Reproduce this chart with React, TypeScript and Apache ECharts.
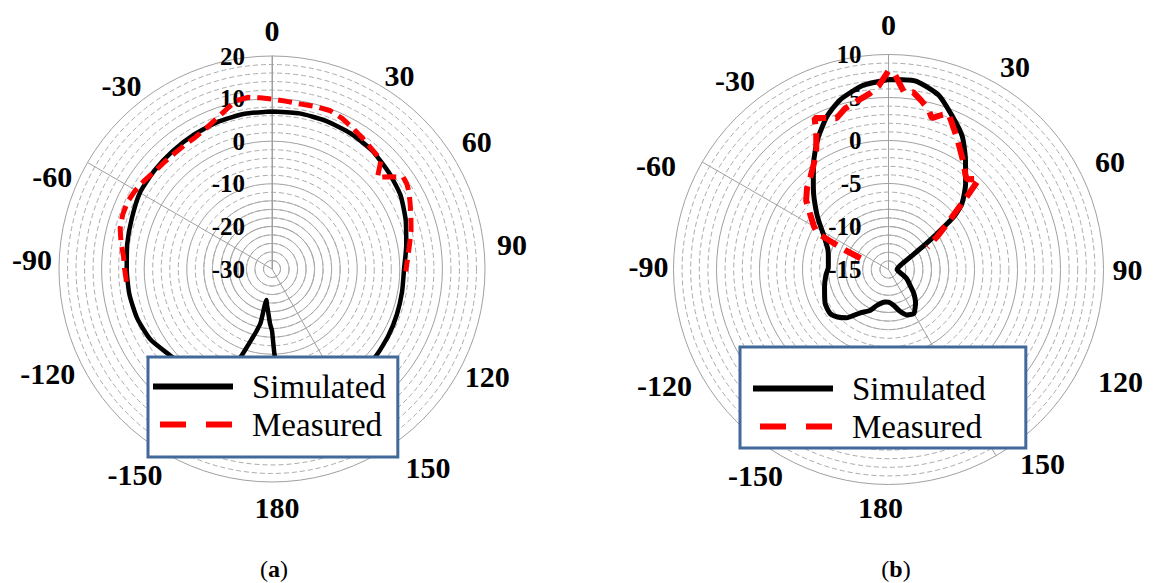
import React, { useEffect, useRef } from 'react';
import * as echarts from 'echarts';

const FONT = "'Liberation Serif', 'Times New Roman', Times, serif";

// ---------- (a) ----------
const A_RADIUS_MIN = -30;
const A_RADIUS_MAX = 20;
const A_RADIUS_STEP = 10;
const A_INNER_SOLID_MAX = -14;
const A_SIM_ANGLES = [0, 10, 20, 30, 40, 50, 60, 70, 80, 90, 100, 110, 120, 130, 140, 150, 160, 170, 175, 178, 180,
  -178, -175, -172, -170, -168, -166, -164, -162, -160, -155, -150, -145, -140, -135, -130, -120, -110, -100,
  -90, -80, -70, -60, -50, -40, -30, -20, -10];
const A_SIM_GAIN = [7.0, 7.1, 7.0, 6.8, 6.4, 5.6, 4.8, 3.4, 2.0, 1.0, 1.0, 1.2, 1.5, 1.8, 1.5, 0.5, -1.5, -4.5, -7.0, -9.1, -15.5,
  -17.1, -19.8, -21.5, -22.6, -17.0, -15.0, -13.0, -10.5, -7.7, -4.5, -2.5, -1.0, 0.0, 0.8, 1.4, 3.0, 3.7, 4.0,
  4.1, 4.5, 5.0, 5.8, 6.0, 6.2, 6.5, 6.8, 7.0];
const A_MEAS_ANGLES = [-95, -90, -85, -80, -75, -70, -65, -60, -55, -50, -45, -40, -35, -30, -25, -20, -15, -12, -8, -4,
  0, 5, 10, 15, 20, 25, 30, 35, 40, 45, 49, 52, 55, 58, 61, 65, 70, 75, 81, 85, 91];
const A_MEAS_GAIN = [4.3, 4.6, 5.0, 6.0, 6.9, 7.3, 7.4, 7.0, 6.4, 5.8, 5.6, 5.5, 5.6, 5.8, 6.5, 7.7, 9.3, 10.4, 10.7, 10.3,
  9.9, 9.5, 9.3, 9.5, 9.6, 9.0, 8.1, 7.3, 6.6, 6.2, 2.8, 5.2, 7.6, 7.4, 6.8, 5.8, 4.7, 3.8, 2.6, 2.0, 1.4];

// ---------- (b) ----------
const B_RADIUS_MIN = -15;
const B_RADIUS_MAX = 10;
const B_RADIUS_STEP = 5;
const B_INNER_SOLID_MAX = -8;
const B_SIM_ANGLES = [0, 8, 16, 23, 29, 35, 42, 48, 51, 53, 56, 60, 70, 90, 105, 115, 120, 128, 133, 141, 144, 150, 158, 165, 172, 180,
  -174, -168, -162, -155, -147, -139, -133, -127, -118, -105, -95, -88, -80, -72, -66, -61, -56, -52, -45,
  -40, -34, -28, -22, -16, -8];
const B_SIM_GAIN = [7.1, 7.15, 6.1, 4.2, 2.7, 0.6, -1.6, -3.5, -5.2, -7.5, -10.0, -12.0, -13.5, -14.0, -13.6, -12.8, -12.4, -11.7, -11.0, -10.0, -9.7, -9.1, -9.3, -10.0, -10.8, -11.2,
  -11.2, -11.0, -10.6, -9.7, -9.0, -7.55, -6.9, -6.5, -6.65, -7.3, -7.7, -8.0, -7.9, -7.6, -7.0, -6.3, -5.3, -4.4, -2.7,
  -1.4, 0.5, 2.4, 4.15, 5.5, 6.6];
const B_MEAS_ANGLES = [-68, -66, -64, -63, -60, -55, -50, -45, -40, -35, -31, -28, -26, -22, -19, -15, -10, -6, -3, 0,
  2, 5, 8, 11, 14, 16, 19, 21, 23, 27, 31, 35, 39, 41, 45, 47, 49, 52, 56, 60];
const B_MEAS_GAIN = [-11.5, -9.5, -7.5, -5.8, -5.0, -3.9, -2.5, -1.6, -0.9, 0.1, 1.3, 2.9, 4.6, 4.0, 3.6, 4.4, 5.0, 5.6, 6.4, 8.1,
  7.6, 5.7, 5.8, 5.0, 4.2, 3.3, 4.0, 4.4, 3.7, 2.4, 1.2, 0.2, -0.8, -1.1, -0.1, -2.5, -4.4, -6.3, -8.2, -9.8];

// ---------- shared ----------
const ANGLE_STEP = 30;
const SPOKE_ANGLES = [0, 150, -60];
const SERIES_NAMES = ['Simulated', 'Measured'];
const CAPTIONS = ['a', 'b'];

// layout nudges of the angle tick labels [dx, dy] (px), keyed by tick label
const A_LABEL_NUDGE: Record<string, number[]> = {
  '0': [0, 1], '30': [0, 16], '60': [-5, 0], '90': [0, -25], '120': [-2, -20], '150': [21, -11],
  '180': [5, -2], '-150': [3, -4], '-120': [-2, -23], '-90': [5, -10], '-60': [-5, 35], '-30': [-18, 26],
};
const B_LABEL_NUDGE: Record<string, number[]> = {
  '0': [0, -3], '30': [-2, 9], '60': [10, 20], '90': [-3, 0], '120': [13, -17], '150': [18, -18],
  '180': [-8, -4], '-150': [8, -6], '-120': [0, -13], '-90': [7, -3], '-60': [-16, 24], '-30': [-20, 23],
};

const toAxisAngle = (a: number) => (a < 0 ? a + 360 : a);
const toData = (angles: number[], gains: number[], close: boolean) => {
  const d = angles.map((a, i) => [gains[i], toAxisAngle(a)]);
  if (close) d.push([gains[0], toAxisAngle(angles[0]) === 0 ? 360 : toAxisAngle(angles[0])]);
  return d;
};
const tickName = (v: number) => String(v > 180 ? v - 360 : v);

const GRID_MAJOR = '#a0a0a0';
const GRID_MINOR = '#ababab';

const spokeColors = Array.from({ length: 360 / ANGLE_STEP + 1 }, (_, i) => {
  const v = i * ANGLE_STEP;
  const n = v >= 360 ? 0 : v > 180 ? v - 360 : v;
  return SPOKE_ANGLES.includes(n) ? GRID_MAJOR : 'rgba(0,0,0,0)';
});

function angleAxisFor(polarIndex: number, show: boolean, nudge: Record<string, number[]>) {
  const rich: Record<string, any> = {};
  for (let v = 0; v < 360; v += ANGLE_STEP) {
    const [dx, dy] = nudge[tickName(v)] || [0, 0];
    rich['t' + v] = {
      fontSize: 30, fontWeight: 'bold', fontFamily: FONT, color: '#000',
      padding: [dy, -dx, -dy, dx],
    };
  }
  return {
    polarIndex,
    type: 'value',
    min: 0,
    max: 360,
    interval: ANGLE_STEP,
    startAngle: 90,
    clockwise: true,
    show,
    axisLine: { show: false },
    axisTick: { show: false },
    axisLabel: {
      formatter: (v: number) => `{t${v}|${tickName(v)}}`,
      fontSize: 30,
      fontWeight: 'bold',
      fontFamily: FONT,
      color: '#000',
      margin: 12,
      rich,
    },
    splitLine: { show: true, lineStyle: { color: spokeColors, width: 1 } },
  };
}

function radiusAxisFor(polarIndex: number, min: number, max: number, step: number) {
  return {
    polarIndex,
    type: 'value',
    min,
    max,
    interval: step,
    axisLine: { show: true, lineStyle: { color: GRID_MAJOR, width: 1 } },
    axisTick: { show: false },
    axisLabel: { fontSize: 25, fontWeight: 'bold', fontFamily: FONT, color: '#000', margin: 27 },
    splitLine: { show: true, lineStyle: { color: GRID_MAJOR, width: 1 } },
    minorTick: { show: false, splitNumber: 5 },
    minorSplitLine: { show: true, lineStyle: { color: GRID_MINOR, width: 1, type: [5, 3] } },
  };
}

function innerRadiusAxisFor(polarIndex: number, min: number, max: number, step: number) {
  return {
    polarIndex,
    type: 'value',
    min,
    max,
    interval: step,
    axisLine: { show: false },
    axisTick: { show: false },
    axisLabel: { show: false },
    splitLine: { show: true, lineStyle: { color: GRID_MINOR, width: 1 } },
  };
}

function legendFor(left: number, top: number, padding: number[]) {
  return {
    left,
    top,
    orient: 'vertical',
    padding,
    itemGap: 5,
    itemWidth: 80,
    itemHeight: 14,
    backgroundColor: '#ffffff',
    borderColor: '#41699a',
    borderWidth: 3,
    borderRadius: 0,
    selectedMode: false,
    z: 10,
    textStyle: { fontSize: 33, fontFamily: FONT, color: '#000', padding: [0, 0, 0, 14] },
    data: [
      { name: SERIES_NAMES[0], itemStyle: { opacity: 0 }, lineStyle: { color: '#000', width: 6, type: 'solid' } },
      { name: SERIES_NAMES[1], itemStyle: { opacity: 0 }, lineStyle: { color: '#ff0000', width: 6, type: [26, 20], dashOffset: 39 } },
    ],
  };
}

export default function App() {
  const ref = useRef<HTMLDivElement>(null);
  useEffect(() => {
    document.body.style.margin = '0';
    if (!ref.current) return;
    const chart = echarts.init(ref.current, null, { renderer: 'svg' });
    const option: any = {
      animation: false,
      backgroundColor: '#ffffff',
      textStyle: { fontFamily: FONT },
      polar: [
        { center: [272, 269], radius: [0, 213] },
        { center: [272, 269], radius: [0, 213 * (A_INNER_SOLID_MAX - A_RADIUS_MIN) / (A_RADIUS_MAX - A_RADIUS_MIN)] },
        { center: [888.5, 269.5], radius: [0, 215] },
        { center: [888.5, 269.5], radius: [0, 215 * (B_INNER_SOLID_MAX - B_RADIUS_MIN) / (B_RADIUS_MAX - B_RADIUS_MIN)] },
      ],
      angleAxis: [
        angleAxisFor(0, true, A_LABEL_NUDGE),
        angleAxisFor(1, false, A_LABEL_NUDGE),
        angleAxisFor(2, true, B_LABEL_NUDGE),
        angleAxisFor(3, false, B_LABEL_NUDGE),
      ],
      radiusAxis: [
        radiusAxisFor(0, A_RADIUS_MIN, A_RADIUS_MAX, A_RADIUS_STEP),
        innerRadiusAxisFor(1, A_RADIUS_MIN, A_INNER_SOLID_MAX, A_RADIUS_STEP / 5),
        radiusAxisFor(2, B_RADIUS_MIN, B_RADIUS_MAX, B_RADIUS_STEP),
        innerRadiusAxisFor(3, B_RADIUS_MIN, B_INNER_SOLID_MAX, B_RADIUS_STEP / 5),
      ],
      legend: [legendFor(148, 357, [13, 12, 16, 2]), legendFor(740, 347, [25, 40, 5, 10])],
      series: [
        {
          name: SERIES_NAMES[0], type: 'line', coordinateSystem: 'polar', polarIndex: 0,
          data: toData(A_SIM_ANGLES, A_SIM_GAIN, true), symbol: 'none', smooth: 0.2,
          lineStyle: { color: '#000', width: 4.5 }, itemStyle: { color: '#000' },
        },
        {
          name: SERIES_NAMES[1], type: 'line', coordinateSystem: 'polar', polarIndex: 0,
          data: toData(A_MEAS_ANGLES, A_MEAS_GAIN, false), symbol: 'none', smooth: false,
          lineStyle: { color: '#ff0000', width: 5, type: [14, 7] }, itemStyle: { color: '#ff0000' },
        },
        {
          name: SERIES_NAMES[0], type: 'line', coordinateSystem: 'polar', polarIndex: 2,
          data: toData(B_SIM_ANGLES, B_SIM_GAIN, true), symbol: 'none', smooth: 0.2,
          lineStyle: { color: '#000', width: 5 }, itemStyle: { color: '#000' },
        },
        {
          name: SERIES_NAMES[1], type: 'line', coordinateSystem: 'polar', polarIndex: 2,
          data: toData(B_MEAS_ANGLES, B_MEAS_GAIN, false), symbol: 'none', smooth: false,
          lineStyle: { color: '#ff0000', width: 6, type: [18, 9] }, itemStyle: { color: '#ff0000' },
        },
      ],
      graphic: CAPTIONS.map((c, i) => ({
        type: 'text',
        x: i === 0 ? 274 : 896,
        y: 569,
        style: {
          text: `{n|(}{b|${c}}{n|)}`,
          align: 'center',
          verticalAlign: 'middle',
          fill: '#000',
          rich: {
            n: { fontSize: 24, fontFamily: FONT, fontWeight: 'normal', fill: '#000' },
            b: { fontSize: 24, fontFamily: FONT, fontWeight: 'bold', fill: '#000' },
          },
        },
      })),
    };
    chart.setOption(option);
    return () => chart.dispose();
  }, []);
  return <div ref={ref} style={{ position: 'fixed', left: 0, top: 0, width: 1160, height: 583 }} />;
}
